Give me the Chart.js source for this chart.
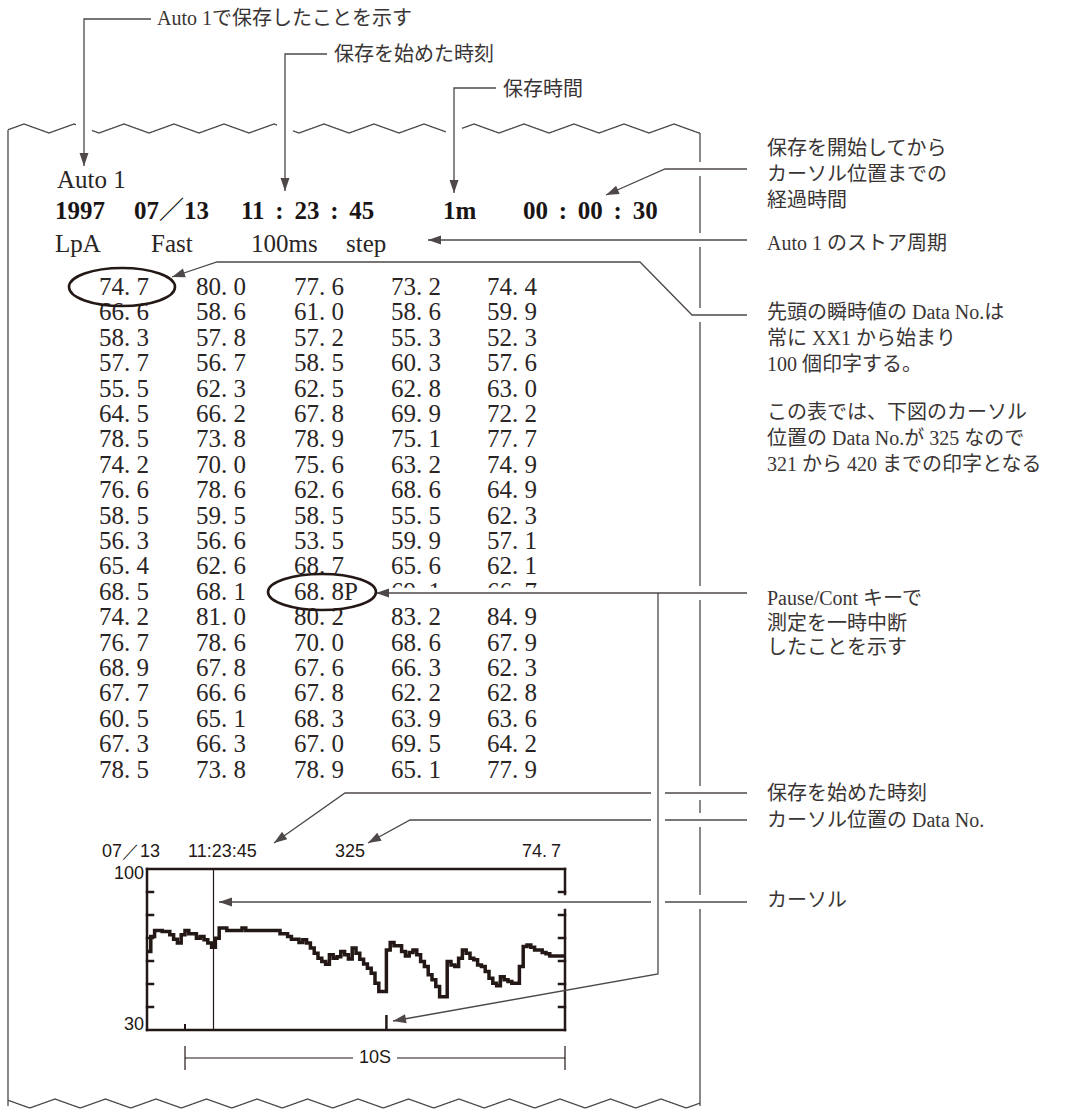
<!DOCTYPE html>
<html lang="ja">
<head>
<meta charset="UTF-8">
<title>Auto 1 ストア印字例</title>
<script src="https://cdn.jsdelivr.net/npm/chart.js@4.4.1/dist/chart.umd.min.js"></script>
<style>
    html, body { margin: 0; padding: 0; background: #fff; }
    #page { position: relative; width: 1079px; height: 1112px; overflow: hidden; }
    #plot { position: absolute; left: 0; top: 0; z-index: 2; }
    .t { position: absolute; white-space: nowrap; transform: translateY(-50%); line-height: 1.2; color: #231815; z-index: 1; }
    .r { transform: translate(-100%, -50%); }
    .note { font-family: "Liberation Serif", "Noto Sans CJK JP", serif; font-size: 20px; color: #3a3535; }
    .prn { font-family: "Liberation Serif", "Noto Sans CJK JP", serif; font-size: 25px; color: #2a2525; }
    .bold { font-weight: bold; color: #1a1515; }
    .lcd { font-family: "Liberation Sans", Arial, sans-serif; font-size: 18px; }
    .dot { display: inline-block; width: 0.5em; }
    .cut { clip-path: inset(0 0 19px 0); }
</style>
</head>
<body>
<div id="page">
    <canvas id="plot" width="1079" height="1112"></canvas>
</div>

<script>
    // trace of the level graph, one value per 0.1 s (dB)
    const sampleStep = 0.1;
    const levelTrace = [
        64.1, 70.7, 73.3, 73.3, 72.8, 72.8, 71.4, 69.5, 67.8, 71.4,
        73.3, 71.8, 71.8, 69.9, 70.7, 69.2, 67.8, 66.0, 69.9, 74.3,
        74.3, 73.3, 73.3, 73.3, 73.3, 74.3, 73.3, 73.3, 73.3, 73.3,
        73.3, 73.3, 73.3, 73.3, 73.3, 71.8, 71.8, 70.7, 69.5, 69.5,
        68.0, 69.2, 67.8, 65.6, 63.4, 61.2, 59.8, 58.6, 62.7, 61.2,
        61.9, 64.1, 62.7, 60.9, 65.6, 63.4, 60.8, 58.7, 56.9, 54.7,
        50.3, 46.7, 46.7, 64.8, 68.0, 66.6, 66.6, 64.1, 62.2, 63.7,
        64.8, 62.7, 59.8, 57.6, 54.0, 51.8, 48.9, 44.5, 44.5, 59.8,
        58.3, 57.6, 61.2, 64.8, 63.4, 61.2, 60.5, 58.3, 57.6, 55.4,
        52.5, 50.3, 49.2, 53.2, 51.8, 51.1, 50.3, 50.3, 57.6, 66.3,
        67.0, 66.0, 64.8, 64.8, 63.7, 63.1, 62.2, 62.2, 62.2, 62.2,
        62.2
    ];
    const timeRange = [0, 11];
    const levelRange = [30, 100];
    const levelTicks = [40, 50, 60, 70, 80, 90];
    const levelLabels = ['100', '30'];
    const cursorTime = 1.75;
    const markTimes = [1.0, 6.3];
    const scaleBarTimes = [1.0, 11.0];
    const scaleBarLabel = '10S';

    // graph header
    const graphHeader = ['07／13', '11:23:45', '325', '74.7'];

    // printed table, data No. 321 to 420
    const tableValues = [
        '74.7', '80.0', '77.6', '73.2', '74.4',
        '66.6', '58.6', '61.0', '58.6', '59.9',
        '58.3', '57.8', '57.2', '55.3', '52.3',
        '57.7', '56.7', '58.5', '60.3', '57.6',
        '55.5', '62.3', '62.5', '62.8', '63.0',
        '64.5', '66.2', '67.8', '69.9', '72.2',
        '78.5', '73.8', '78.9', '75.1', '77.7',
        '74.2', '70.0', '75.6', '63.2', '74.9',
        '76.6', '78.6', '62.6', '68.6', '64.9',
        '58.5', '59.5', '58.5', '55.5', '62.3',
        '56.3', '56.6', '53.5', '59.9', '57.1',
        '65.4', '62.6', '68.7', '65.6', '62.1',
        '68.5', '68.1', '68.8P', '69.1', '66.7',
        '74.2', '81.0', '80.2', '83.2', '84.9',
        '76.7', '78.6', '70.0', '68.6', '67.9',
        '68.9', '67.8', '67.6', '66.3', '62.3',
        '67.7', '66.6', '67.8', '62.2', '62.8',
        '60.5', '65.1', '68.3', '63.9', '63.6',
        '67.3', '66.3', '67.0', '69.5', '64.2',
        '78.5', '73.8', '78.9', '65.1', '77.9'
    ];
    const hiddenCells = [63, 64];

    const page = document.getElementById('page');
    const ink = '#231815';
    const leadInk = '#4e4848';

    function addText(text, x, y, cls, html) {
        const d = document.createElement('div');
        d.className = 't ' + cls;
        d.style.left = x + 'px';
        d.style.top = y + 'px';
        if (html) d.innerHTML = text; else d.textContent = text;
        page.appendChild(d);
        return d;
    }
    function dotted(s) {
        return s.replace('.', '<span class="dot">.</span>');
    }

    // header of the print-out
    addText('Auto 1', 57, 180, 'prn');
    addText('1997', 55, 211, 'prn bold');
    addText('07／13', 134, 211, 'prn bold');
    addText('11 : 23 : 45', 241, 211, 'prn bold').style.wordSpacing = '4.5px';
    addText('1m', 443, 211, 'prn bold');
    addText('00 : 00 : 30', 523, 211, 'prn bold').style.wordSpacing = '4.5px';
    addText('LpA', 55, 244, 'prn');
    addText('Fast', 151, 244, 'prn');
    addText('100ms', 251, 244, 'prn');
    addText('step', 346, 244, 'prn');

    const colX = [99, 196, 294, 391, 487];
    tableValues.forEach((v, i) => {
        const row = Math.floor(i / 5), col = i % 5;
        const el = addText(dotted(v), colX[col], 287 + row * 25.4, 'prn', true);
        if (hiddenCells.includes(i)) el.classList.add('cut');
    });

    // notes
    addText('Auto 1で保存したことを示す', 157, 18, 'note');
    addText('保存を始めた時刻', 334, 54, 'note');
    addText('保存時間', 503, 89, 'note');
    const notes = [
        ['保存を開始してから', 148], ['カーソル位置までの', 174], ['経過時間', 200],
        ['Auto 1 のストア周期', 243],
        ['先頭の瞬時値の Data No.は', 312], ['常に XX1 から始まり', 338], ['100 個印字する。', 364],
        ['この表では、下図のカーソル', 412], ['位置の Data No.が 325 なので', 438], ['321 から 420 までの印字となる', 464],
        ['Pause/Cont キーで', 598], ['測定を一時中断', 623], ['したことを示す', 647],
        ['保存を始めた時刻', 793], ['カーソル位置の Data No.', 820], ['カーソル', 900]
    ];
    notes.forEach(n => addText(n[0], 767, n[1], 'note'));

    // graph texts
    addText(graphHeader[0], 102, 852, 'lcd');
    addText(graphHeader[1], 188, 852, 'lcd');
    addText(graphHeader[2], 335, 852, 'lcd');
    addText(dotted(graphHeader[3]), 522, 852, 'lcd', true);
    addText(levelLabels[0], 144, 874, 'lcd r');
    addText(levelLabels[1], 144, 1025, 'lcd r');

    function poly(ctx, pts) {
        ctx.beginPath();
        ctx.moveTo(pts[0][0], pts[0][1]);
        for (let i = 1; i < pts.length; i++) ctx.lineTo(pts[i][0], pts[i][1]);
        ctx.stroke();
    }
    function head(ctx, from, to) {
        const a = Math.atan2(to[1] - from[1], to[0] - from[0]);
        const L = 13, W = 4.5;
        ctx.beginPath();
        ctx.moveTo(to[0], to[1]);
        ctx.lineTo(to[0] - L * Math.cos(a) + W * Math.sin(a), to[1] - L * Math.sin(a) - W * Math.cos(a));
        ctx.lineTo(to[0] - L * Math.cos(a) - W * Math.sin(a), to[1] - L * Math.sin(a) + W * Math.cos(a));
        ctx.closePath();
        ctx.fill();
    }
    function leader(ctx, pts) {
        poly(ctx, pts);
        head(ctx, pts[pts.length - 2], pts[pts.length - 1]);
    }
    function vBroken(ctx, x, y0, y1, gaps, g) {
        let y = y0;
        gaps.slice().sort((a, b) => a - b).forEach(c => {
            if (c - g > y) poly(ctx, [[x, y], [x, c - g]]);
            y = Math.max(y, c + g);
        });
        if (y < y1) poly(ctx, [[x, y], [x, y1]]);
    }
    function zigzag(ctx, x0, x1, firstPeak, period, yPeak, yValley, gaps) {
        const yAt = x => {
            let p = ((x - firstPeak) % period + period) % period;
            const half = period / 2;
            const f = p < half ? p / half : (period - p) / half;
            return yPeak + (yValley - yPeak) * f;
        };
        ctx.beginPath();
        let pen = false;
        for (let x = x0; x <= x1; x += 0.5) {
            const inGap = gaps.some(c => Math.abs(x - c) < 8);
            if (inGap) { pen = false; continue; }
            if (!pen) { ctx.moveTo(x, yAt(x)); pen = true; } else ctx.lineTo(x, yAt(x));
        }
        ctx.stroke();
    }

    const graphFrame = {
        id: 'graphFrame',
        afterDatasetsDraw(chart) {
            const ctx = chart.ctx, a = chart.chartArea;
            const xs = chart.scales.x, ys = chart.scales.y;
            ctx.save();
            ctx.strokeStyle = ink;
            ctx.fillStyle = ink;
            ctx.lineCap = 'square';
            ctx.lineWidth = 2.5;
            poly(ctx, [[a.left, a.top], [a.right, a.top]]);
            poly(ctx, [[a.left, a.bottom], [a.right, a.bottom]]);
            poly(ctx, [[a.left, a.top], [a.left, a.bottom]]);
            vBroken(ctx, a.right, a.top, a.bottom, [902], 8);
            levelTicks.forEach(v => {
                const y = ys.getPixelForValue(v);
                poly(ctx, [[a.left, y], [a.left + 6, y]]);
                poly(ctx, [[a.right - 6, y], [a.right, y]]);
            });
            ctx.lineCap = 'butt';
            ctx.lineWidth = 2;
            poly(ctx, [[xs.getPixelForValue(markTimes[0]), a.bottom], [xs.getPixelForValue(markTimes[0]), a.bottom - 6]]);
            ctx.lineWidth = 2.5;
            poly(ctx, [[xs.getPixelForValue(markTimes[1]), a.bottom], [xs.getPixelForValue(markTimes[1]), a.bottom - 15]]);
            // cursor
            ctx.lineWidth = 1.2;
            const cx = xs.getPixelForValue(cursorTime);
            poly(ctx, [[cx, a.top], [cx, a.bottom]]);
            // 10 s scale bar
            const b0 = xs.getPixelForValue(scaleBarTimes[0]);
            const b1 = xs.getPixelForValue(scaleBarTimes[1]);
            const bm = xs.getPixelForValue((scaleBarTimes[0] + scaleBarTimes[1]) / 2);
            const by = a.bottom + 28;
            poly(ctx, [[b0, by], [bm - 22, by]]);
            poly(ctx, [[bm + 22, by], [b1, by]]);
            poly(ctx, [[b0, by - 12], [b0, by + 12]]);
            poly(ctx, [[b1, by - 12], [b1, by + 12]]);
            ctx.restore();
            addText(scaleBarLabel, bm, by, 'lcd').style.transform = 'translate(-50%, -50%)';
        },
        afterDraw(chart) {
            const ctx = chart.ctx;
            ctx.save();
            // paper edges
            ctx.strokeStyle = leadInk;
            ctx.lineWidth = 1.3;
            zigzag(ctx, 8, 700, 24, 50, 124, 133, [84, 285, 454]);
            zigzag(ctx, 8, 700, 55, 50.5, 1099, 1108, []);
            poly(ctx, [[8, 130], [8, 1106]]);
            vBroken(ctx, 700, 133, 1106, [169, 240, 315, 593, 793, 820, 902], 7);

            // leaders
            ctx.fillStyle = leadInk;
            leader(ctx, [[151, 19], [84, 19], [84, 166]]);
            leader(ctx, [[327, 54], [285, 54], [285, 191]]);
            leader(ctx, [[496, 88], [454, 88], [454, 193]]);
            leader(ctx, [[747, 169], [665, 169], [606, 195]]);
            leader(ctx, [[747, 240], [428, 240]]);
            leader(ctx, [[747, 315], [692, 315], [640, 262], [217, 262], [172, 277]]);
            leader(ctx, [[747, 593], [376, 593]]);
            leader(ctx, [[658, 593], [658, 974], [393, 1021]]);
            poly(ctx, [[747, 793], [665, 793]]);
            leader(ctx, [[651, 793], [345, 793], [274, 843]]);
            poly(ctx, [[747, 820], [665, 820]]);
            leader(ctx, [[651, 820], [410, 820], [368, 843]]);
            poly(ctx, [[747, 902], [665, 902]]);
            leader(ctx, [[651, 902], [219, 902]]);

            // circled values
            ctx.strokeStyle = ink;
            ctx.lineWidth = 2.6;
            ctx.beginPath();
            ctx.ellipse(122, 287, 53, 19, 0, 0, Math.PI * 2);
            ctx.stroke();
            ctx.beginPath();
            ctx.ellipse(322, 592, 54, 18, 0, 0, Math.PI * 2);
            ctx.stroke();
            ctx.restore();
        }
    };

    new Chart(document.getElementById('plot'), {
        type: 'line',
        data: {
            datasets: [{
                data: levelTrace.map((v, i) => ({ x: i * sampleStep, y: v })),
                stepped: true,
                borderColor: ink,
                borderWidth: 3.5,
                pointRadius: 0,
                fill: false
            }]
        },
        options: {
            responsive: false,
            animation: false,
            layout: { padding: { left: 147, top: 869, right: 1079 - 565, bottom: 1112 - 1030 } },
            plugins: { legend: { display: false }, tooltip: { enabled: false } },
            scales: {
                x: { type: 'linear', min: timeRange[0], max: timeRange[1], display: false },
                y: { min: levelRange[0], max: levelRange[1], display: false }
            }
        },
        plugins: [graphFrame]
    });
</script>
</body>
</html>
